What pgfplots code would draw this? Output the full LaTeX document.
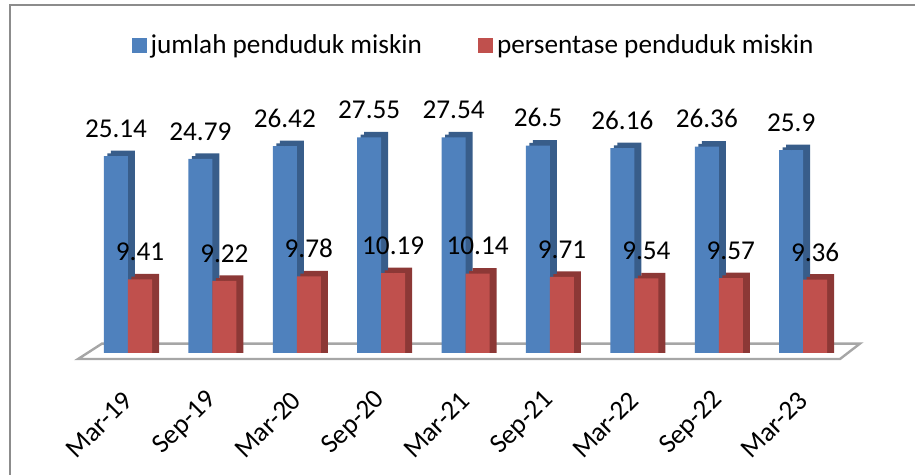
\documentclass[border=0pt]{standalone}
\usepackage{pgfplots}
\pgfplotsset{compat=1.18}
\usepackage{pgfplotstable}
\usepackage{fontspec}
\setmainfont{Carlito}
\definecolor{bfront}{HTML}{4F81BD}
\definecolor{bside}{HTML}{385D8A}
\definecolor{rfront}{HTML}{C0504D}
\definecolor{rside}{HTML}{8C3836}
\definecolor{framegray}{HTML}{8C8C8C}
\definecolor{floorgray}{HTML}{A6A6A6}
\newcommand\fsz{\fontsize{13.6}{16}\selectfont}
\pgfplotstableread{
i b r
0 25.14 9.41
1 24.79 9.22
2 26.42 9.78
3 27.55 10.19
4 27.54 10.14
5 26.5 9.71
6 26.16 9.54
7 26.36 9.57
8 25.9 9.36
}\data
\begin{document}
\begin{tikzpicture}
\path[use as bounding box] (0pt,0pt) rectangle (457.5pt,237.5pt);
\draw[framegray, line width=1pt] (5pt,-1pt) -- (5pt,235pt) -- (458.5pt,235pt);
\begin{axis}[
  at={(38.68pt,57.085pt)}, anchor=south west,
  scale only axis, width=392.45pt, height=121.36pt,
  xmin=-0.6, xmax=8.7, ymin=-1, ymax=30,
  clip=false,
  axis line style={draw=none}, tick style={draw=none},
  ytick=\empty,
  xtick={0,...,8},
  xticklabels={Mar-19,Sep-19,Mar-20,Sep-20,Mar-21,Sep-21,Mar-22,Sep-22,Mar-23},
  xticklabel style={xshift=0pt, yshift=-17.6pt, rotate=45, anchor=east, inner sep=0pt, font=\fsz},
  legend style={draw=none, fill=none, at={(axis description cs:0.506,1.299)}, anchor=center,
    legend columns=2, font=\fsz, /tikz/every even column/.append style={column sep=26pt}},
  legend image code/.code={\fill[#1] (0pt,-3.75pt) rectangle (7.5pt,3.75pt);},
  every node near coord/.append style={anchor=south, inner sep=0pt, yshift=9pt, font=\fsz, text=black},
]
\addplot[forget plot, draw=floorgray, line width=1.2pt, fill=white, mark=none, sharp plot]
  coordinates {(-0.592,-0.77) (-0.308,1.2) (8.673,1.2) (8.436,-0.77)} -- cycle;
% blue bars (depth layers then front)
\addplot[forget plot, ybar, bar width=12pt, bar shift=-2.5pt, fill=bside, draw=none]
  table[x=i, y expr=\thisrow{b}+0.70] {\data};
\addplot[forget plot, ybar, bar width=12pt, bar shift=-4.25pt, fill=bside, draw=none]
  table[x=i, y expr=\thisrow{b}+0.35] {\data};
\addplot[ybar, bar width=12pt, bar shift=-6pt, fill=bfront, draw=none]
  table[x=i, y=b] {\data};
\addlegendentry{jumlah penduduk miskin}
% red bars
\addplot[forget plot, ybar, bar width=12pt, bar shift=9.5pt, fill=rside, draw=none]
  table[x=i, y expr=\thisrow{r}+0.70] {\data};
\addplot[forget plot, ybar, bar width=12pt, bar shift=7.75pt, fill=rside, draw=none]
  table[x=i, y expr=\thisrow{r}+0.35] {\data};
\addplot[ybar, bar width=12pt, bar shift=6pt, fill=rfront, draw=none]
  table[x=i, y=r] {\data};
\addlegendentry{persentase penduduk miskin}
% value labels
\addplot[forget plot, only marks, mark=*, mark size=0pt, mark options={draw=none, fill=none},
  nodes near coords, point meta=explicit symbolic]
  table[x expr=\thisrow{i}-0.142, y=b, meta=b] {\data};
\addplot[forget plot, only marks, mark=*, mark size=0pt, mark options={draw=none, fill=none},
  nodes near coords, point meta=explicit symbolic]
  table[x expr=\thisrow{i}+0.142, y=r, meta=r] {\data};
\end{axis}
\end{tikzpicture}
\end{document}
